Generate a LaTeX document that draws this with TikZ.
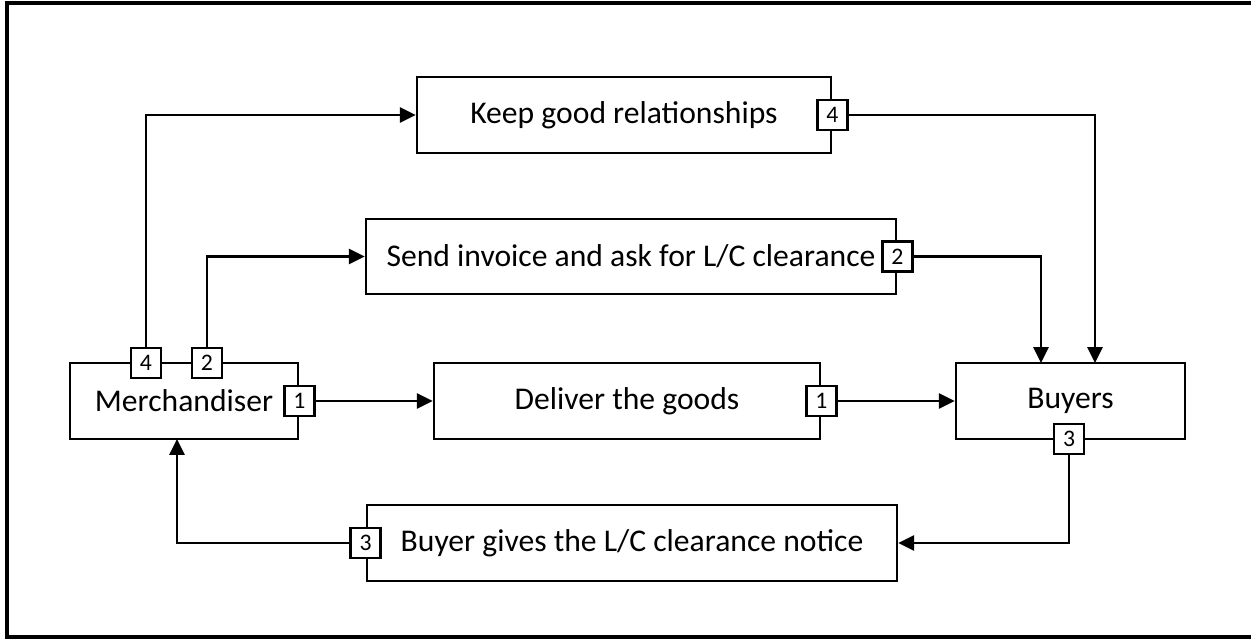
\documentclass[tikz,border=0pt]{standalone}
\usepackage{fontspec}
\setmainfont{Carlito}
\usetikzlibrary{arrows.meta}
\tikzset{
  stage/.style={draw, line width=1.5pt, minimum height=1.52cm, inner sep=0pt, font=\fontsize{18}{21}\selectfont},
  numbox/.style={draw, fill=white, line width=1.5pt, minimum size=0.6cm, inner sep=0pt, font=\fontsize{13.5}{15}\selectfont},
  flow/.style={line width=1.5pt, -{Triangle[length=9pt,width=8.5pt]}}
}

\begin{document}
\begin{tikzpicture}[x=0.02cm, y=-0.02cm]
			%%%%% FRAME %%%%%
			\useasboundingbox (0, 0) rectangle (1251, 639);
			\draw[line width=2.3pt] (7, 3) rectangle (1262, 637);
			
			%%%%% STAGES %%%%%
			\node[stage, minimum width=8.28cm] (keep) at (624, 115) {Keep good relationships};
			\node[stage, minimum width=10.6cm, minimum height=1.5cm] (send) at (631, 256.5) {Send invoice and ask for L/C clearance};
			\node[stage, minimum width=4.56cm] (merch) at (184, 401) {Merchandiser};
			\node[stage, minimum width=7.72cm] (deliver) at (627, 401) {Deliver the goods};
			\node[stage, minimum width=4.58cm] (buyers) at (1070.5, 401) {Buyers};
			\node[stage, minimum width=10.6cm] (gives) at (632, 543) {Buyer gives the L/C clearance notice};
			
			%%%%% STEP NUMBERS %%%%%
			\node[numbox] (m4) at (146, 363) {4};
			\node[numbox] (m2) at (207, 363) {2};
			\node[numbox] (m1) at (merch.east) {1};
			\node[numbox] (k4) at (keep.east) {4};
			\node[numbox] (s2) at (send.east) {2};
			\node[numbox] (d1) at (deliver.east) {1};
			\node[numbox] (b3) at (1069, 439) {3};
			\node[numbox] (g3) at (gives.west) {3};
			
			\coordinate (in2) at (1041, 363);
			\coordinate (in4) at (1095, 363);
			\coordinate (in3) at (177, 439);
			
			%%%%% FLOWS %%%%%
			\draw[flow] (m1) -- (deliver);
			\draw[flow] (d1) -- (buyers);
			\draw[flow] (m2) |- (send);
			\draw[flow] (m4) |- (keep);
			\draw[flow] (s2) -| (in2);
			\draw[flow] (k4) -| (in4);
			\draw[flow] (b3) |- (gives);
			\draw[flow] (g3) -| (in3);
			
\end{tikzpicture}
\end{document}
